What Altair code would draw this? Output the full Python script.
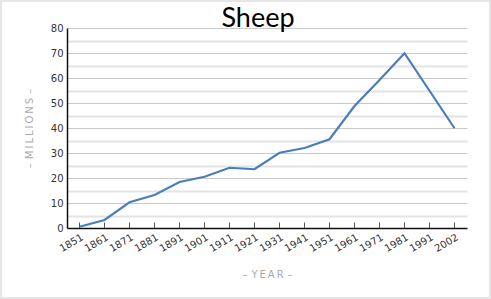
import altair as alt
import pandas as pd

years = ["1851", "1861", "1871", "1881", "1891", "1901", "1911", "1921",
         "1931", "1941", "1951", "1961", "1971", "1981", "1991", "2002"]
sheep = [0.5, 3.2, 10.3, 13.2, 18.4, 20.5, 24.1, 23.5,
         30.1, 32.0, 35.5, 48.8, 59.2, 69.9, 54.9, 39.9]
y_ticks = [0, 5, 10, 15, 20, 25, 30, 35, 40, 45, 50, 55, 60, 65, 70, 75, 80]
title_text = "Sheep"

df = pd.DataFrame({"year": years, "sheep": sheep})
bg = pd.DataFrame({"a": [0]})
tdf = pd.DataFrame({"t": [title_text]})

ts = "\u2009"
y_title = "–" + ts * 2 + ts.join("MILLIONS") + ts * 2 + "–"
x_title = "–" + ts * 2 + ts.join("YEAR") + ts * 2 + "–"

x_enc = alt.X(
    "year:O", sort=None,
    scale=alt.Scale(type="point", padding=0.5),
    axis=alt.Axis(
        title=x_title, titleColor="#aaaaaa", titleFont="DejaVu Sans",
        titleFontSize=10, titleFontWeight="normal", titlePadding=16,
        labelAngle=330, labelAlign="right", labelBaseline="top",
        labelFont="DejaVu Sans", labelFontSize=10, labelColor="#333333",
        labelPadding=4, ticks=False, domainColor="#111111", domainWidth=1.5,
        grid=False, labelOverlap=False,
    ),
)

y_enc = alt.Y(
    "sheep:Q",
    scale=alt.Scale(domain=[0, 80], nice=False, zero=True),
    axis=alt.Axis(
        title=y_title, titleColor="#aaaaaa", titleFont="DejaVu Sans",
        titleFontSize=10, titleFontWeight="normal", titlePadding=16,
        values=y_ticks, labelOverlap=False,
        labelExpr="datum.value % 10 === 0 ? datum.label : ''",
        labelFont="DejaVu Sans", labelFontSize=10, labelColor="#333333",
        labelPadding=4, ticks=False, domainColor="#111111", domainWidth=1.5,
        grid=True,
        gridColor={"condition": {"test": "datum.value % 10 === 0", "value": "#c9c9c9"},
                   "value": "#e3e3e3"},
        gridWidth={"condition": {"test": "datum.value % 10 === 0", "value": 1},
                   "value": 2},
    ),
)

frame = alt.Chart(bg).mark_rect(fill="transparent", stroke="#e6e6e6", strokeWidth=4).encode(
    x=alt.value(-67), x2=alt.value(424), y=alt.value(-28), y2=alt.value(271)
)

title = alt.Chart(tdf).mark_text(
    font="Lato", fontSize=27, color="#000000", align="center", baseline="alphabetic"
).encode(x=alt.value(191), y=alt.value(-1.5), text="t:N")

line = alt.Chart(df).mark_line(color="#4a7ebb", strokeWidth=2.2).encode(
    x=x_enc, y=y_enc
)

ticks = alt.Chart(df).mark_rule(color="#555555", strokeWidth=1).encode(
    x=x_enc, y=alt.value(200), y2=alt.value(194.5)
)

chart = alt.layer(line, ticks, frame, title).properties(
    width=400, height=200,
    autosize=alt.AutoSizeParams(type="none"),
    padding={"left": 67, "top": 28, "right": 24, "bottom": 71},
    background="white",
).configure_view(stroke=None)

chart.save("out.html", embed_options={"renderer": "svg", "actions": False})
